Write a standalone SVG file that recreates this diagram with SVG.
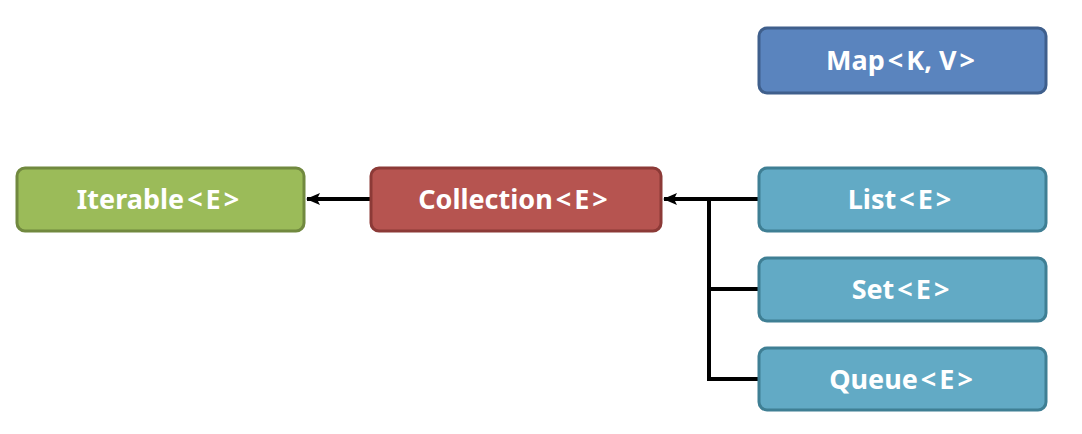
<svg xmlns="http://www.w3.org/2000/svg" width="1082" height="434" viewBox="0 0 1082 434">
<defs>
<marker id="arr" markerUnits="userSpaceOnUse" markerWidth="14" markerHeight="14" viewBox="0 0 14 14" refX="13" refY="7" orient="auto">
<path d="M0,1 L14,7 L0,13 L3,7 Z" fill="#000"/>
</marker>
</defs>
<style>
.box{stroke-width:3}
.lbl{font-family:"Noto Sans","Open Sans",sans-serif;font-weight:bold;font-size:27px;fill:#fff;text-anchor:middle;dominant-baseline:central}
.ln{stroke:#000;stroke-width:4;fill:none}
.green{fill:#9BBB59;stroke:#71893F}
.red{fill:#B65450;stroke:#8C3A37}
.blue{fill:#5A84BE;stroke:#3F5F8C}
.cyan{fill:#62AAC5;stroke:#3F7F94}
</style>
<rect width="1082" height="434" fill="#fff"/>
<g id="connectors">
<line class="ln" x1="371" y1="199" x2="307" y2="199" marker-end="url(#arr)"/>
<line class="ln" x1="758" y1="199" x2="664" y2="199" marker-end="url(#arr)"/>
<polyline class="ln" points="709,199 709,379 758,379"/>
<line class="ln" x1="709" y1="289" x2="758" y2="289"/>
</g>
<g id="iterable">
<rect class="box green" x="17" y="168" width="287" height="63" rx="8"/>
<text class="lbl" x="158" y="198">Iterable<tspan dx="3">&lt;</tspan><tspan dx="3">E</tspan><tspan dx="3">&gt;</tspan></text>
</g>
<g id="collection">
<rect class="box red" x="371" y="168" width="290" height="63" rx="8"/>
<text class="lbl" x="513" y="198">Collection<tspan dx="3">&lt;</tspan><tspan dx="3">E</tspan><tspan dx="3">&gt;</tspan></text>
</g>
<g id="map">
<rect class="box blue" x="759" y="28" width="287" height="65" rx="8"/>
<text class="lbl" x="900.5" y="59">Map<tspan dx="3">&lt;</tspan><tspan dx="3">K,</tspan> V<tspan dx="3">&gt;</tspan></text>
</g>
<g id="list">
<rect class="box cyan" x="759" y="168" width="287" height="63" rx="8"/>
<text class="lbl" x="899.5" y="198">List<tspan dx="3">&lt;</tspan><tspan dx="3">E</tspan><tspan dx="3">&gt;</tspan></text>
</g>
<g id="set">
<rect class="box cyan" x="759" y="258" width="287" height="63" rx="8"/>
<text class="lbl" x="900.5" y="288">Set<tspan dx="3">&lt;</tspan><tspan dx="3">E</tspan><tspan dx="3">&gt;</tspan></text>
</g>
<g id="queue">
<rect class="box cyan" x="759" y="348" width="287" height="62" rx="8"/>
<text class="lbl" x="901" y="378">Queue<tspan dx="3">&lt;</tspan><tspan dx="3">E</tspan><tspan dx="3">&gt;</tspan></text>
</g>
</svg>
